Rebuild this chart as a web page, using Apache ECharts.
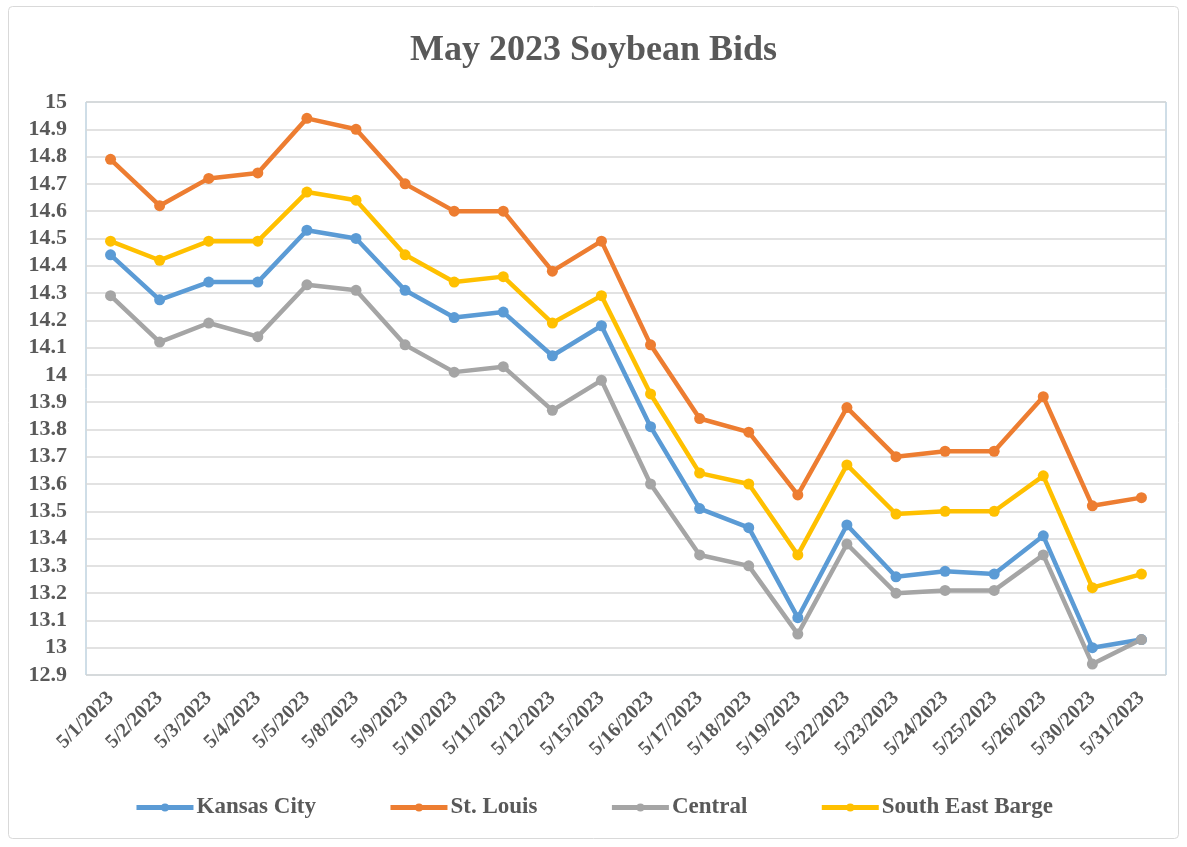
<!DOCTYPE html>
<html>
<head>
<meta charset="utf-8">
<script src="https://cdn.jsdelivr.net/npm/echarts@6/dist/echarts.min.js"></script>
<style>
html,body{margin:0;padding:0;background:#fff;}
#c{width:1187px;height:847px;}
</style>
</head>
<body>
<div id="c"></div>
<script>
const categories = ["5/1/2023","5/2/2023","5/3/2023","5/4/2023","5/5/2023","5/8/2023","5/9/2023","5/10/2023","5/11/2023","5/12/2023","5/15/2023","5/16/2023","5/17/2023","5/18/2023","5/19/2023","5/22/2023","5/23/2023","5/24/2023","5/25/2023","5/26/2023","5/30/2023","5/31/2023"];
const kansasCity = [14.44,14.275,14.34,14.34,14.53,14.50,14.31,14.21,14.23,14.07,14.18,13.81,13.51,13.44,13.11,13.45,13.26,13.28,13.27,13.41,13.00,13.03];
const stLouis = [14.79,14.62,14.72,14.74,14.94,14.90,14.70,14.60,14.60,14.38,14.49,14.11,13.84,13.79,13.56,13.88,13.70,13.72,13.72,13.92,13.52,13.55];
const central = [14.29,14.12,14.19,14.14,14.33,14.31,14.11,14.01,14.03,13.87,13.98,13.60,13.34,13.30,13.05,13.38,13.20,13.21,13.21,13.34,12.94,13.03];
const seBarge = [14.49,14.42,14.49,14.49,14.67,14.64,14.44,14.34,14.36,14.19,14.29,13.93,13.64,13.60,13.34,13.67,13.49,13.50,13.50,13.63,13.22,13.27];
const seriesNames = ["Kansas City","St. Louis","Central","South East Barge"];
const colors = ["#5B9BD5","#ED7D31","#A5A5A5","#FFC000"];
const seriesData = [kansasCity, stLouis, central, seBarge];

const chart = echarts.init(document.getElementById('c'));
const font = '"Liberation Serif","Times New Roman",serif';
chart.setOption({
  animation: false,
  backgroundColor: '#fff',
  title: {
    text: 'May 2023 Soybean Bids',
    left: 'center',
    top: 28,
    textStyle: {fontFamily: font, fontSize: 36, fontWeight: 'bold', color: '#595959'}
  },
  graphic: [{
    type: 'rect',
    shape: {x: 8.5, y: 6.5, width: 1170, height: 832, r: 4},
    style: {fill: 'none', stroke: '#d9d9d9', lineWidth: 1},
    silent: true
  }],
  legend: {
    top: 791,
    left: 'center',
    itemGap: 72,
    itemWidth: 57,
    itemHeight: 10,
    data: seriesNames,
    lineStyle: {width: 5},
    textStyle: {fontFamily: font, fontSize: 23, fontWeight: 'bold', color: '#595959', padding: [0, 0, 0, -2]}
  },
  grid: {
    left: 86, right: 21, top: 102, bottom: 172,
    show: true, borderColor: '#9fbccf', borderWidth: 1
  },
  xAxis: {
    type: 'category',
    data: categories,
    boundaryGap: true,
    axisLine: {show: false},
    axisTick: {show: false},
    axisLabel: {
      interval: 0, rotate: 45, margin: 20,
      fontFamily: font, fontSize: 20, fontWeight: 'bold', color: '#595959'
    }
  },
  yAxis: {
    type: 'value',
    min: 12.9, max: 15, interval: 0.1,
    axisLine: {show: false},
    axisTick: {show: false},
    splitLine: {lineStyle: {color: '#d9d9d9', width: 1.5}},
    axisLabel: {
      margin: 19,
      fontFamily: font, fontSize: 22, fontWeight: 'bold', color: '#595959',
      formatter: v => String(Math.round(v*10)/10)
    }
  },
  series: seriesData.map((d, i) => ({
    name: seriesNames[i],
    type: 'line',
    data: d,
    color: colors[i],
    symbol: 'circle',
    symbolSize: 11,
    lineStyle: {width: 4.5, color: colors[i]},
    itemStyle: {color: colors[i]}
  }))
});
</script>
</body>
</html>
